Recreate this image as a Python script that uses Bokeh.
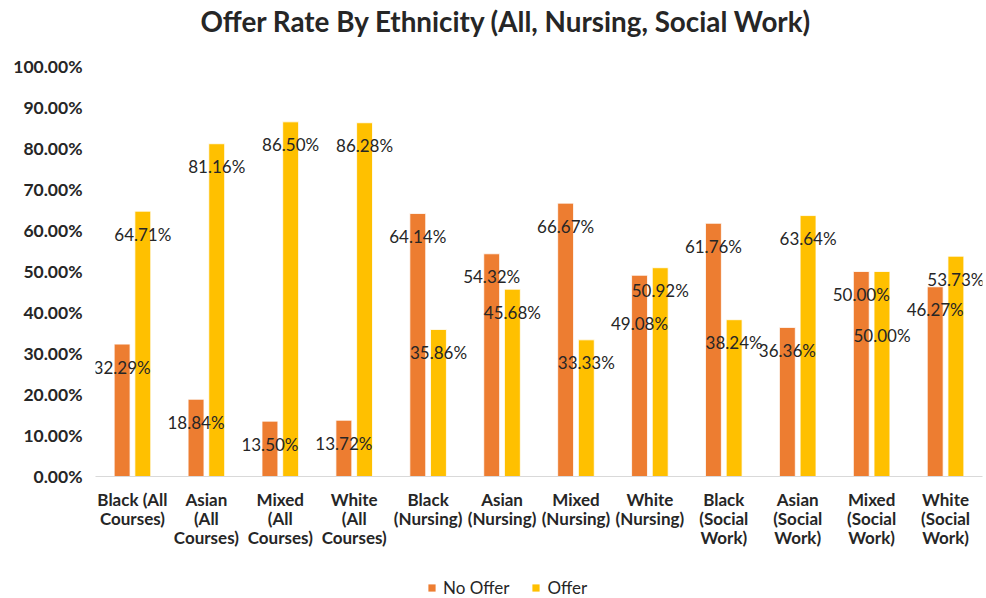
from bokeh.plotting import figure
from bokeh.models import (ColumnDataSource, FactorRange, NumeralTickFormatter,
                          FixedTicker, Legend, LegendItem)
from bokeh.layouts import column
from bokeh.transform import dodge
from bokeh.embed import file_html
from bokeh.resources import INLINE
from bokeh.core.properties import value

# ---- data ----
categories = ["Black (All Courses)", "Asian (All Courses)", "Mixed (All Courses)",
              "White (All Courses)", "Black (Nursing)", "Asian (Nursing)",
              "Mixed (Nursing)", "White (Nursing)", "Black (Social Work)",
              "Asian (Social Work)", "Mixed (Social Work)", "White (Social Work)"]
tick_labels = ["Black (All\nCourses)", "Asian\n(All\nCourses)", "Mixed\n(All\nCourses)",
               "White\n(All\nCourses)", "Black\n(Nursing)", "Asian\n(Nursing)",
               "Mixed\n(Nursing)", "White\n(Nursing)", "Black\n(Social\nWork)",
               "Asian\n(Social\nWork)", "Mixed\n(Social\nWork)", "White\n(Social\nWork)"]
no_offer = [0.3229, 0.1884, 0.1350, 0.1372, 0.6414, 0.5432, 0.6667, 0.4908,
            0.6176, 0.3636, 0.5000, 0.4627]
offer = [0.6471, 0.8116, 0.8650, 0.8628, 0.3586, 0.4568, 0.3333, 0.5092,
         0.3824, 0.6364, 0.5000, 0.5373]
series_names = ["No Offer", "Offer"]
title_text = "Offer Rate By Ethnicity (All, Nursing, Social Work)"
y_ticks = [0.0, 0.1, 0.2, 0.3, 0.4, 0.5, 0.6, 0.7, 0.8, 0.9, 1.0]

# label placement (pixels below bar top), as in the original data labels
no_offer_dy = [23] * 7 + [48] + [23] * 4
offer_dy = [23] * 10 + [64, 23]

ORANGE = "#ED7D31"
YELLOW = "#FFC000"
TXT = "#262626"
FONT = "Lato"
W = 984

src = ColumnDataSource(dict(
    cat=tick_labels,
    no_offer=no_offer,
    offer=offer,
    no_lbl=[f"{v * 100:.2f}%" for v in no_offer],
    of_lbl=[f"{v * 100:.2f}%" for v in offer],
    no_dy=no_offer_dy,
    of_dy=offer_dy,
))

# ---- title strip ----
tfig = figure(width=W, height=44, output_backend="svg", toolbar_location=None,
              x_axis_location=None, y_axis_location=None, min_border=0,
              x_range=(0, 1), y_range=(0, 1))
tfig.outline_line_color = None
tfig.xgrid.grid_line_color = None
tfig.ygrid.grid_line_color = None
tfig.title.text = title_text
tfig.title.align = "left"
tfig.title.offset = 105
tfig.title.standoff = 4
tfig.title.text_font = FONT
tfig.title.text_font_size = "27.8px"
tfig.title.text_font_style = "bold"
tfig.title.text_color = TXT

# ---- main chart ----
p = figure(width=W, height=534, x_range=FactorRange(factors=tick_labels),
           y_range=(0, 1.0), output_backend="svg", toolbar_location=None,
           min_border_left=95, min_border_right=2, min_border_top=22,
           min_border_bottom=102)
p.outline_line_color = None
p.xgrid.grid_line_color = None
p.ygrid.grid_line_color = None

off = 0.14
w = 0.215
p.vbar(x=dodge("cat", -off, range=p.x_range), top="no_offer", width=w,
       source=src, fill_color=ORANGE, line_color="white", line_width=0.8)
p.vbar(x=dodge("cat", off, range=p.x_range), top="offer", width=w,
       source=src, fill_color=YELLOW, line_color="white", line_width=0.8)

p.text(x=dodge("cat", -off, range=p.x_range), y="no_offer", text="no_lbl",
       y_offset="no_dy", source=src, text_align="center", text_baseline="middle",
       text_font=value(FONT), text_font_size="17px", text_color=TXT)
p.text(x=dodge("cat", off, range=p.x_range), y="offer", text="of_lbl",
       y_offset="of_dy", source=src, text_align="center", text_baseline="middle",
       text_font=value(FONT), text_font_size="17px", text_color=TXT)

# y axis
p.yaxis.ticker = FixedTicker(ticks=y_ticks)
p.yaxis.formatter = NumeralTickFormatter(format="0.00%")
p.yaxis.axis_line_color = None
p.yaxis.major_tick_line_color = None
p.yaxis.minor_tick_line_color = None
p.yaxis.major_tick_out = 0
p.yaxis.minor_tick_out = 0
p.yaxis.major_label_standoff = 13
p.yaxis.major_label_text_font = FONT
p.yaxis.major_label_text_font_size = "17.5px"
p.yaxis.major_label_text_font_style = "bold"
p.yaxis.major_label_text_color = TXT

# x axis
p.xaxis.axis_line_color = "#D9D9D9"
p.xaxis.axis_line_width = 1
p.xaxis.major_tick_line_color = None
p.xaxis.minor_tick_line_color = None
p.xaxis.major_tick_out = 0
p.xaxis.minor_tick_out = 0
p.xaxis.major_label_standoff = 12
p.xaxis.major_label_text_font = FONT
p.xaxis.major_label_text_font_size = "17px"
p.xaxis.major_label_text_font_style = "bold"
p.xaxis.major_label_text_color = TXT
p.xaxis.major_label_text_line_height = 0.92

# ---- legend strip below the chart ----
# key renderers: same data drawn as zero-size bars outside the visible range,
# so only the legend keys show
leg = figure(width=W, height=20, output_backend="svg", toolbar_location=None,
             x_axis_location=None, y_axis_location=None, min_border=0,
             x_range=FactorRange(factors=tick_labels), y_range=(-1000, -999))
leg.outline_line_color = None
leg.xgrid.grid_line_color = None
leg.ygrid.grid_line_color = None
g1 = leg.vbar(x="cat", top="no_offer", bottom="no_offer", width=0,
              source=src, fill_color=ORANGE, line_color=None)
g2 = leg.vbar(x="cat", top="offer", bottom="offer", width=0,
              source=src, fill_color=YELLOW, line_color=None)
legend = Legend(items=[LegendItem(label=series_names[0], renderers=[g1]),
                       LegendItem(label=series_names[1], renderers=[g2])],
                orientation="horizontal", location=(332, 0),
                border_line_color=None, background_fill_alpha=0,
                label_text_font=FONT, label_text_font_size="17px",
                label_text_color=TXT, glyph_width=9, glyph_height=9,
                label_standoff=7, spacing=22, padding=0, margin=0)
leg.add_layout(legend)

layout = column(tfig, p, leg, spacing=0)
open("out.html", "w").write(file_html(layout, INLINE))
